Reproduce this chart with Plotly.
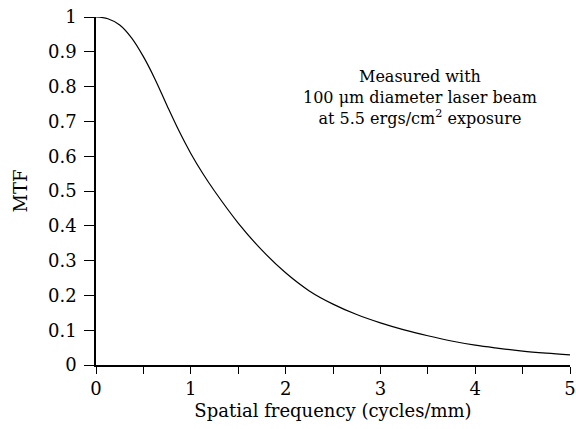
import plotly.graph_objects as go

freq = [0, 0.125, 0.25, 0.375, 0.5, 0.625, 0.75, 0.875, 1.0, 1.125, 1.25, 1.5,
        1.75, 2.0, 2.25, 2.5, 2.75, 3.0, 3.25, 3.5, 3.75, 4.0, 4.25, 4.5, 4.75, 5.0]
mtf = [1.0, 0.995, 0.977, 0.940, 0.886, 0.820, 0.745, 0.673, 0.608, 0.551, 0.500,
       0.408, 0.330, 0.265, 0.213, 0.175, 0.145, 0.121, 0.101, 0.084, 0.069,
       0.057, 0.048, 0.040, 0.034, 0.029]

x_ticks = [0, 1, 2, 3, 4, 5]
y_ticks = [0, 0.1, 0.2, 0.3, 0.4, 0.5, 0.6, 0.7, 0.8, 0.9, 1]
y_tick_text = ["0", "0.1", "0.2", "0.3", "0.4", "0.5", "0.6", "0.7", "0.8", "0.9", "1"]

FONT = "DejaVu Serif"

fig = go.Figure()
fig.add_trace(go.Scatter(x=freq, y=mtf, mode="lines",
                         line=dict(color="black", width=1.2, shape="spline", smoothing=1.0),
                         showlegend=False, hoverinfo="skip"))

fig.add_annotation(
    x=3.42, y=0.77, xref="x", yref="y",
    text="Measured with<br>100 μm diameter laser beam<br>at 5.5 ergs/cm<sup>2</sup> exposure",
    showarrow=False, align="center",
    font=dict(family=FONT, size=16, color="black"),
)

fig.update_layout(
    width=576, height=429,
    margin=dict(l=96, r=6, t=17, b=64),
    paper_bgcolor="white", plot_bgcolor="white",
    font=dict(family=FONT, size=18, color="black"),
    xaxis=dict(
        range=[0, 5], tickvals=x_ticks, ticktext=[str(v) for v in x_ticks],
        ticks="outside", ticklen=7, tickwidth=1.2, tickcolor="black",
        minor=dict(dtick=0.5, ticks="outside", ticklen=7, tickwidth=1.2, tickcolor="black", showgrid=False),
        showline=True, linecolor="black", linewidth=1.5,
        showgrid=False, zeroline=False, automargin=False,
        title=dict(text="Spatial frequency (cycles/mm)", standoff=6, font=dict(size=18)),
        tickfont=dict(size=18),
    ),
    yaxis=dict(
        range=[0, 1], tickvals=y_ticks, ticktext=y_tick_text,
        ticks="outside", ticklen=10, tickwidth=1.2, tickcolor="black",
        showline=True, linecolor="black", linewidth=1.5,
        showgrid=False, zeroline=False, automargin=False,
        ticklabelstandoff=4,
        title=dict(text="MTF", standoff=16, font=dict(size=18)),
        tickfont=dict(size=18),
    ),
)

fig.write_html("out.html")
